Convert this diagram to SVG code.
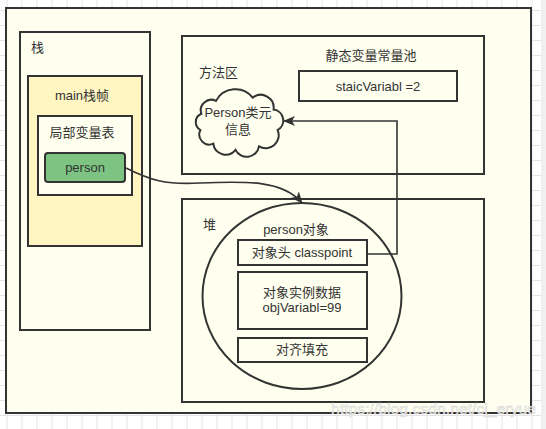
<svg xmlns="http://www.w3.org/2000/svg" width="546" height="429" viewBox="0 0 546 429">
<defs>
<pattern id="grid" width="15" height="15" patternUnits="userSpaceOnUse" x="6.5" y="10">
<path d="M0,0.5 H15 M0.5,0 V15" fill="none" stroke="#e4e4e4" stroke-width="1"/>
</pattern>
<marker id="arr" viewBox="0 0 12 10" refX="11" refY="5" markerWidth="12" markerHeight="10" markerUnits="userSpaceOnUse" orient="auto">
<path d="M0,0 L12,5 L0,10 L3,5 z" fill="#333"/>
</marker>
<style>
.box{fill:#ffffef;stroke:#333;stroke-width:2}
.t{font-family:"Liberation Sans","Noto Sans CJK SC",sans-serif;font-size:13px;fill:#333}
.c{text-anchor:middle}
.edge{fill:none;stroke:#333;stroke-width:1.6}
</style>
</defs>
<rect x="0" y="0" width="546" height="429" fill="#fff"/>
<rect x="0" y="0" width="546" height="429" fill="url(#grid)"/>
<rect x="541" y="0" width="5" height="429" fill="#f0f0f0"/>
<rect id="outer" class="box" x="6" y="8" width="525" height="405"/>

<g id="stack">
<rect class="box" x="20" y="32" width="130" height="298"/>
<text class="t" x="31" y="52">栈</text>
</g>
<g id="mainframe">
<rect x="28" y="76" width="114" height="170" fill="#fff6c2" stroke="#333" stroke-width="2"/>
<text class="t c" x="82" y="100">main栈帧</text>
</g>
<g id="localvars">
<rect class="box" x="38" y="116" width="94" height="79"/>
<text class="t c" x="82" y="137">局部变量表</text>
</g>
<g id="person">
<rect x="45" y="153" width="80" height="29" rx="3" fill="#7dc482" stroke="#333" stroke-width="2"/>
<text class="t c" x="85" y="172">person</text>
</g>

<g id="methodarea">
<rect class="box" x="182" y="36" width="302" height="138"/>
<text class="t" x="199" y="77">方法区</text>
<text class="t c" x="371" y="60">静态变量常量池</text>
</g>
<g id="staticvar">
<rect class="box" x="299" y="71" width="158" height="30"/>
<text class="t c" x="378" y="91">staicVariabl =2</text>
</g>
<g id="classinfo">
<path class="box" d="M201.4,113.8 A10.5,10.5 0 0 1 216,100.9 A22,22 0 0 1 252.7,97.6 A13,13 0 0 1 273.6,109.5 A11,11 0 0 1 277.6,130 A13,13 0 0 1 259,146.4 A12.5,12.5 0 0 1 235.5,149.9 A12.5,12.5 0 0 1 213.3,143.7 A10,10 0 0 1 200.4,130 A9,9 0 0 1 201.4,113.8 Z"/>
<text class="t c" x="238" y="117">Person类元</text>
<text class="t c" x="238" y="134">信息</text>
</g>

<g id="heap">
<rect class="box" x="182" y="199" width="302" height="203"/>
<text class="t" x="203" y="229">堆</text>
</g>
<g id="personobj">
<ellipse class="box" cx="302" cy="296" rx="99.5" ry="93"/>
<text class="t c" x="296" y="234">person对象</text>
</g>
<g id="header">
<rect class="box" x="238" y="240" width="129" height="25"/>
<text class="t c" x="302" y="257">对象头 classpoint</text>
</g>
<g id="instdata">
<rect class="box" x="238" y="272" width="129" height="57"/>
<text class="t c" x="302" y="297">对象实例数据</text>
<text class="t c" x="302" y="312">objVariabl=99</text>
</g>
<g id="padding">
<rect class="box" x="238" y="338" width="129" height="24"/>
<text class="t c" x="302" y="354">对齐填充</text>
</g>

<g id="connectors">
<path class="edge" d="M126,168 C150,180 165,185 200,183 C245,181 283,180 302,203" marker-end="url(#arr)"/>
<path class="edge" d="M367,254 H397 V121 H284" marker-end="url(#arr)"/>
</g>

<text x="331" y="414" textLength="205" lengthAdjust="spacingAndGlyphs" style="font-family:'Liberation Sans',sans-serif;font-size:15px;fill:#ffffff;fill-opacity:0.85;stroke:#cfcfcf;stroke-width:0.5">https://blog.csdn.net/cj_eryue</text>
</svg>
